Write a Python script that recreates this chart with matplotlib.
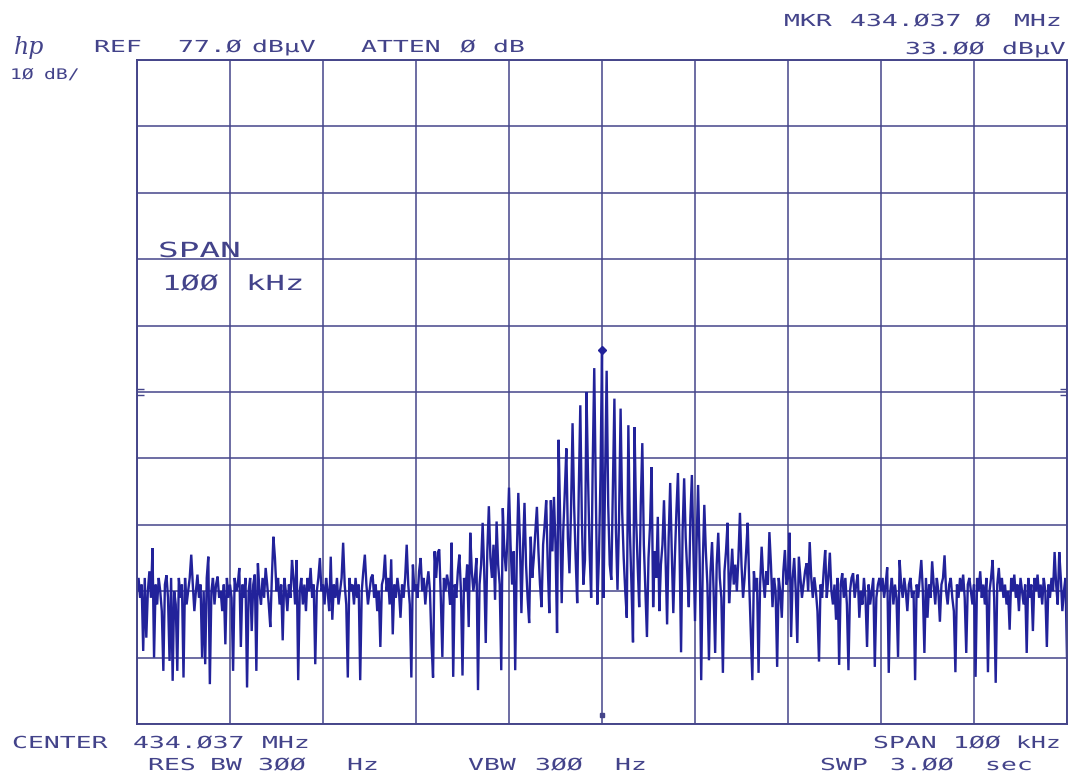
import numpy as np
import matplotlib
matplotlib.use("Agg")
import matplotlib.pyplot as plt
import matplotlib.patheffects as pe
from matplotlib.transforms import Affine2D

# ---------------- data (dBµV), span -50..+50 kHz around 434.037 MHz, one list per division ----------------
trace_div0 = [-3, -1, -4, -2, -12, -1, -10, -3, 0, -4, 3.5, -13, -2, -5, -1, -3, -6, -15, -2, -0.6,
              -4, -13.5, -1, -16.5, -3, -5, -15, -1, -4, -2, -16, -1, -5, -3, -1, 2.5, -2, -6, -3, -0.5,
              -4, -2, -13, -3, -14, -1, 2.2, -17, -3, -1, -5, -2, -0.8, -4, -3, -6, -2, -11, -1, -4]
trace_div1 = [-2, -4, -15, -1, -3, -2, 0.5, -11.4, -2, -4, -1, -17.5, -3, -1, -9, -2, -0.5, -15, 1.2, -3,
              -5, -1, -4, 0.5, -2, -5, -8.4, -1, 5.2, 2, -3, -1, -5, -2, -10.4, -1, -3, -6, -2, -4,
              1.7, -1, -5, 1.7, -16.4, -3, -1, -5, -2, -6, -1, -3, 0.5, -4, -2, -14, -3, -1, 2, -3]
trace_div2 = [-2, -5, -1, -3, -6, 2.2, -7.3, -2, -4, -1, -5, -3, -1, 4.3, -2, -5, -16, -1, -3, -2,
              -5, -1, -4, -2, -16.4, -3, 0, 2.5, -2, -5, -3, -1, -0.5, -4, -2, -6, -3, -11.4, -2, -1,
              2.5, -3, -1, -5, 1.8, -9.5, -2, -4, -1, -3, -7, -2, -4, -1, 4, -2, -5, -16, 1, -3]
trace_div3 = [-2, -4, 0, 2, -3, -1, -5, -2, 0, -3, -10.8, -16, 3, -1, 2.8, 3.3, -4, -12.9, -1, -3,
              -0.5, -2, -5, 4.3, -15.9, -2, -4, 0, 2.5, -3, -15.7, -1, -3, 1, -8.4, 5.8, 0, -3, -1, 2,
              -17.9, -2, 1, 7.3, 0, -10.8, 3, 9.8, 2, -1, 4, -4.3, 7.5, 1, -2, -14.9, 9.5, 3, 0, 5]
trace_div4 = [12.6, 4, -2, 3, -14.9, 2, 11.8, 5, -6.3, 3, 10.3, 1, -4, -7.8, 5.2, -1, 2, 6, 9.7, 3,
              -2, -5.4, 4, 7, 10.7, 1, -6.3, 10.7, 3, 11.2, 4, -9.3, 19.8, 8, -4.8, 6, 12, 18.5, 5, -0.3,
              9, 22.3, 10, 2, -4.8, 12, 25, 8, -2, 1.7, 27, 14, 3, -4, 16, 30.6, 12, -5, 2, 14]
trace_div5 = [33, -4, 14, 30.2, 10, 1, -1.3, 12, 26, 6, -2.8, 8, 24.5, 9, 2, -3, -7, 22, 6, -2,
              -10.7, 21.7, 8, 1, -5.4, 10, 19.3, 4, -3, -9.9, 2, 7, 15.7, -5.4, 3, -1, 8.2, -6, 1, 4,
              10.7, 2, -8, 5, 13.3, 3, -6.3, 2, 9, 14.8, 4, -12.2, 6, 14, 5, 0, -5.4, 8, 14.5, 3]
trace_div6 = [-7.5, 4, 13, 2, -16.4, 1, 10, 3, -2, -13.4, 0, 4.4, -3, -12.3, 1, 5.8, -1, -4, -15.3, 0,
              3, 7.3, -4.8, -1, 3.4, -2, 1, -3, 2, 8.8, 1, -4, -1, 3, 7.3, -2, -9, -16.4, 0, -3,
              -1, -15.3, -2, 3.7, -1, -4, 0, -2, 5.9, 1, -5.4, -1, -3, -14.4, -1, -3, -7, 0, 3.2, -2]
trace_div7 = [-1, 5.8, -9.9, -1, 2, -3, -10.8, 2.2, -1, -4, -2, 0, 1.2, -3, 4.4, -1, -4, -0.9, -3, -6,
              -13.6, -2, -4, 0, 3.2, -4, -1, 2.8, -3, -5, -2, -7.3, -1, -14.1, -2, -0.3, -4, -1, -5, -14.9,
              -3, -1, -0.3, -4, -2, -0.5, -7, -3, -5, -1, -4, -11.4, -2, -5, -3, -1, -14.4, -4, -2, -1]
trace_div8 = [-3, -1, -4, -2, 0.6, -15.3, -3, -1, -5, -2, -4, -12.9, 1.7, -2, -4, -1, -3, -6, -2, -1,
              -4, -3, -16.4, -2, -4, -1, 1.7, -3, -12.3, -1, -7, -2, -4, 1.5, -2, -5, -1, -3, -7.6, -2,
              -1, 2.4, -3, -5, -2, -1, -4, -6, -15.2, -2, -4, -1, -3, -0.5, -4, -12.3, -2, -1, -3, -5]
trace_div9 = [-2, -15.9, -1, -3, 0, -4, -2, -5, -1, -15.2, -3, -1, 1.7, -4, -16.8, -2, 0.5, -3, -1, -4,
              -2, -5, -3, -8.8, -1, -3, -0.5, -4, -2, -6, -1, -3, -5, -2, -12.3, -1, -4, -2, -9, -1,
              -3, -0.5, -4, -2, -5, -1, -3, -11.4, -2, -4, -1, -3, 2.9, -2, -5, 2.9, -1, -6, -3, -1, -13]

marker_freq_khz = 0.0
marker_level = 33.0
ref_level = 77.0
db_per_div = 10
span_khz = 100

trace = np.array(trace_div0 + trace_div1 + trace_div2 + trace_div3 + trace_div4 +
                 trace_div5 + trace_div6 + trace_div7 + trace_div8 + trace_div9, dtype=float)
freq = np.linspace(-span_khz / 2, span_khz / 2, len(trace))

# ---------------- styling ----------------
W, H = 1077, 776
GRID = "#45458a"
TRACE = "#22229a"
TEXT = "#43438a"


class HStretch(pe.AbstractPathEffect):
    """Stretch text glyphs horizontally around their left origin (plotter-like wide lettering)."""

    def __init__(self, sx):
        super().__init__()
        self.sx = sx

    def draw_path(self, renderer, gc, tpath, affine, rgbFace=None):
        x0 = affine.get_matrix()[0, 2]
        t = affine + Affine2D().translate(-x0, 0).scale(self.sx, 1.0).translate(x0, 0)
        renderer.draw_path(gc, tpath, t, rgbFace)


fig = plt.figure(figsize=(W / 100, H / 100), dpi=100)
fig.patch.set_facecolor("white")

left, right, top, bottom = 137, 1067, 60, 724
ax = fig.add_axes([left / W, (H - bottom) / H, (right - left) / W, (bottom - top) / H])
ax.set_xlim(-span_khz / 2, span_khz / 2)
ax.set_ylim(ref_level - 10 * db_per_div, ref_level)
ax.set_xticks(np.arange(-50, 51, 10))
ax.set_yticks(np.arange(ref_level - 100, ref_level + 1, db_per_div))
ax.tick_params(length=0, labelbottom=False, labelleft=False)
ax.grid(True, color=GRID, linewidth=1.1)
for s in ax.spines.values():
    s.set_color(GRID)
    s.set_linewidth(1.4)
ax.set_facecolor("white")

ax.plot(freq, trace, color=TRACE, linewidth=1.7, solid_joinstyle="miter")
ax.plot([marker_freq_khz], [marker_level + 0.4], marker="D", markersize=4.5, color=TRACE)

# centre reference marks
yc = ref_level - 5 * db_per_div
for yy in (yc - 0.5, yc + 0.5):
    ax.plot([-50, -49.2], [yy, yy], color=GRID, lw=1.0, solid_capstyle="butt")
    ax.plot([49.2, 50], [yy, yy], color=GRID, lw=1.0, solid_capstyle="butt")
ax.plot([0], [ref_level - 98.6], marker="s", markersize=3.5, color=GRID)


def label(x, y, s, size=11.9, sx=1.6):
    fig.text(x / W, 1 - y / H, s, ha="left", va="baseline", fontsize=size,
             family="DejaVu Sans Mono", color=TEXT, path_effects=[HStretch(sx)])


# header
fig.text(14 / W, 1 - 54 / H, "hp", ha="left", va="baseline", fontsize=17,
         family="DejaVu Serif", style="italic", color=TEXT)
label(94, 52, "REF")
label(178, 52, "77.Ø")
label(252, 52, "dBµV")
label(361, 52, "ATTEN")
label(460, 52, "Ø")
label(493, 52, "dB")
label(784, 26, "MKR")
label(850, 26, "434.Ø37")
label(975, 26, "Ø")
label(1014, 26, "MHz")
label(905, 54, "33.ØØ")
label(1002, 54, "dBµV")
label(10, 79, "1Ø", size=10.5, sx=1.35)
label(44, 79, "dB/", size=10.5, sx=1.35)

# span annotation inside the graticule
label(158, 257, "SPAN", size=15, sx=1.65)
label(162, 290, "1ØØ", size=15, sx=1.5)
label(246, 290, "kHz", size=15, sx=1.55)

# footer
label(12, 748, "CENTER")
label(133, 748, "434.Ø37")
label(262, 748, "MHz")
label(873, 748, "SPAN")
label(953, 748, "1ØØ")
label(1016, 748, "kHz", sx=1.5)
label(148, 770, "RES")
label(210, 770, "BW")
label(258, 770, "3ØØ")
label(347, 770, "Hz")
label(468, 770, "VBW")
label(535, 770, "3ØØ")
label(615, 770, "Hz")
label(820, 770, "SWP")
label(890, 770, "3.ØØ")
label(985, 770, "sec")

fig.savefig("out.png", dpi=100, facecolor="white")
